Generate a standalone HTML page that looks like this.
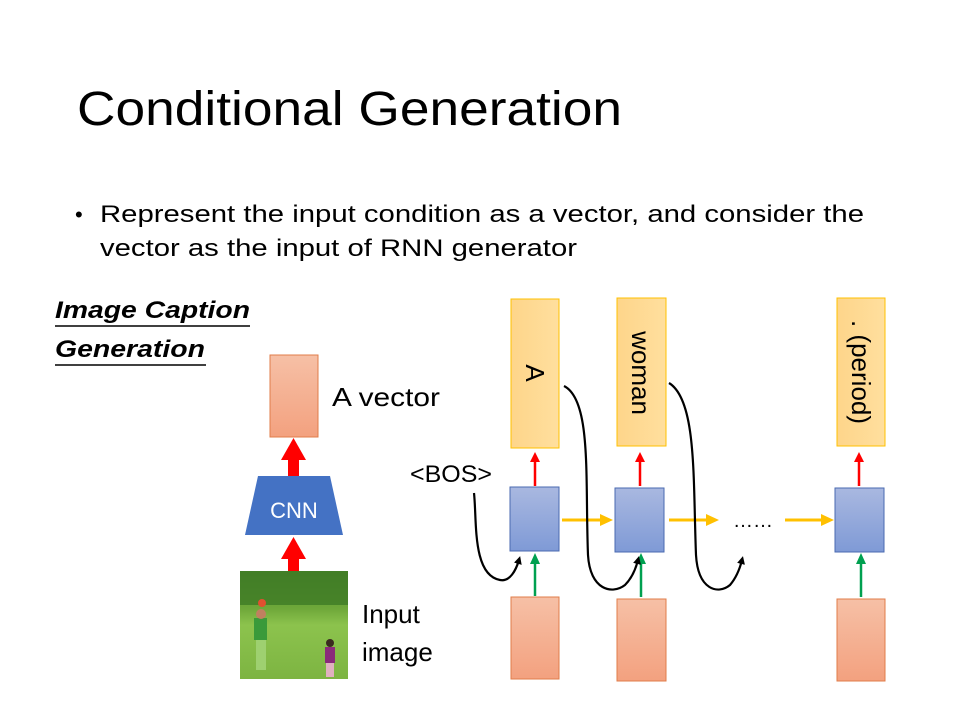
<!DOCTYPE html>
<html><head><meta charset="utf-8"><style>
html,body{margin:0;padding:0;background:#fff;}
svg{display:block;font-family:"Liberation Sans",sans-serif;}
</style></head><body>
<svg width="960" height="720" viewBox="0 0 960 720" xmlns="http://www.w3.org/2000/svg">
<defs>
<linearGradient id="sal" x1="0" y1="0" x2="0" y2="1"><stop offset="0" stop-color="#f6c0a6"/><stop offset="1" stop-color="#f3a17f"/></linearGradient>
<linearGradient id="yel" x1="0" y1="0" x2="1" y2="0"><stop offset="0" stop-color="#fed58a"/><stop offset="1" stop-color="#ffdf9e"/></linearGradient>
<linearGradient id="blu" x1="0" y1="0" x2="0" y2="1"><stop offset="0" stop-color="#a9b8e0"/><stop offset="1" stop-color="#7f9ad6"/></linearGradient>
<linearGradient id="grass" x1="0" y1="0" x2="0" y2="1"><stop offset="0" stop-color="#4f8a2a"/><stop offset="0.35" stop-color="#6fa83a"/><stop offset="0.5" stop-color="#8cc34d"/><stop offset="1" stop-color="#7db442"/></linearGradient>
<marker id="ab" markerWidth="8" markerHeight="8" refX="4" refY="4" orient="auto" markerUnits="userSpaceOnUse"><path d="M0,0 L8,4 L0,8 z" fill="#000"/></marker>
</defs>

<text x="77" y="125" font-size="48" fill="#000" textLength="545" lengthAdjust="spacingAndGlyphs">Conditional Generation</text>
<text x="75" y="222" font-size="22">•</text>
<text x="100" y="222" font-size="24" textLength="764" lengthAdjust="spacingAndGlyphs">Represent the input condition as a vector, and consider the</text>
<text x="100" y="256" font-size="24" textLength="477" lengthAdjust="spacingAndGlyphs">vector as the input of RNN generator</text>

<text x="55" y="318" font-size="24" font-weight="bold" font-style="italic" textLength="195" lengthAdjust="spacingAndGlyphs">Image Caption</text>
<line x1="55" y1="326" x2="250" y2="326" stroke="#000" stroke-width="1.5"/>
<text x="55" y="357" font-size="24" font-weight="bold" font-style="italic" textLength="150" lengthAdjust="spacingAndGlyphs">Generation</text>
<line x1="55" y1="365" x2="206" y2="365" stroke="#000" stroke-width="1.5"/>

<!-- left column -->
<rect x="270" y="355" width="48" height="82" fill="url(#sal)" stroke="#e07c4a" stroke-width="1"/>
<text x="332" y="406" font-size="26" textLength="108" lengthAdjust="spacingAndGlyphs">A vector</text>
<path d="M258,476 L330,476 L343,535 L245,535 Z" fill="#4472c4"/>
<text x="294" y="518" font-size="22" fill="#fff" text-anchor="middle">CNN</text>
<rect x="288" y="458" width="11" height="18" fill="#f00"/>
<path d="M281,460 L306,460 L293.5,438 Z" fill="#f00"/>
<rect x="288" y="557" width="11" height="48" fill="#f00"/>
<path d="M281,559 L306,559 L293.5,537 Z" fill="#f00"/>
<!-- image -->
<rect x="240" y="571" width="108" height="108" fill="url(#grass)"/>
<rect x="240" y="571" width="108" height="34" fill="#3f7a25" opacity="0.8"/>
<circle cx="262" cy="603" r="4" fill="#e05030"/>
<rect x="254" y="618" width="13" height="22" fill="#3a9a3a"/>
<rect x="256" y="640" width="10" height="30" fill="#9ed070"/>
<circle cx="261" cy="614" r="5" fill="#c08060"/>
<rect x="325" y="647" width="10" height="16" fill="#8a2a7a"/>
<circle cx="330" cy="643" r="4" fill="#3a2a20"/>
<rect x="326" y="663" width="8" height="14" fill="#e0b0c0"/>
<text x="362" y="623" font-size="26">Input</text>
<text x="362" y="661" font-size="26">image</text>

<!-- RNN columns -->
<g stroke="#ffc000" stroke-width="1">
<rect x="511" y="299" width="48" height="149" fill="url(#yel)"/>
<rect x="617" y="298" width="49" height="148" fill="url(#yel)"/>
<rect x="837" y="298" width="48" height="148" fill="url(#yel)"/>
</g>
<g font-size="26" fill="#000">
<text transform="translate(526,373) rotate(90)" text-anchor="middle">A</text>
<text transform="translate(632,373) rotate(90)" text-anchor="middle">woman</text>
<text transform="translate(852,372) rotate(90)" text-anchor="middle">. (period)</text>
</g>
<g fill="url(#blu)" stroke="#4a6ab0" stroke-width="1">
<rect x="510" y="487" width="49" height="64"/>
<rect x="615" y="488" width="49" height="64"/>
<rect x="835" y="488" width="49" height="64"/>
</g>
<g fill="url(#sal)" stroke="#e07c4a" stroke-width="1">
<rect x="511" y="597" width="48" height="82"/>
<rect x="617" y="599" width="49" height="82"/>
<rect x="837" y="599" width="48" height="82"/>
</g>
<!-- red small arrows -->
<g stroke="#f00" stroke-width="2.5"><line x1="535" y1="486" x2="535" y2="460"/><line x1="640" y1="486" x2="640" y2="460"/><line x1="859" y1="486" x2="859" y2="460"/></g>
<g fill="#f00"><path d="M530,462 L540,462 L535,452 Z"/><path d="M635,462 L645,462 L640,452 Z"/><path d="M854,462 L864,462 L859,452 Z"/></g>
<!-- green arrows -->
<g stroke="#00a050" stroke-width="2.5"><line x1="535" y1="596" x2="535" y2="562"/><line x1="641" y1="597" x2="641" y2="562"/><line x1="861" y1="597" x2="861" y2="562"/></g>
<g fill="#00a050"><path d="M530,564 L540,564 L535,553 Z"/><path d="M636,564 L646,564 L641,553 Z"/><path d="M856,564 L866,564 L861,553 Z"/></g>
<!-- yellow horizontals -->
<g stroke="#ffc000" stroke-width="3"><line x1="562" y1="520" x2="602" y2="520"/><line x1="669" y1="520" x2="708" y2="520"/><line x1="785" y1="520" x2="823" y2="520"/></g>
<g fill="#ffc000"><path d="M600,514 L613,520 L600,526 Z"/><path d="M706,514 L719,520 L706,526 Z"/><path d="M821,514 L834,520 L821,526 Z"/></g>
<text x="733" y="527" font-size="20" textLength="40" lengthAdjust="spacingAndGlyphs">……</text>
<text x="410" y="482" font-size="24" textLength="82" lengthAdjust="spacingAndGlyphs">&lt;BOS&gt;</text>
<!-- black curves -->
<g fill="none" stroke="#000" stroke-width="2.2">
<path d="M474,493 C477,520 472,575 500,580 C510,582 516,570 519,560" marker-end="url(#ab)"/>
<path d="M564,386 C592,400 585,480 588,555 C590,590 612,595 625,585 C632,578 636,568 638,560" marker-end="url(#ab)"/>
<path d="M669,383 C697,400 693,480 696,555 C698,590 718,595 730,585 C736,578 740,568 742,560" marker-end="url(#ab)"/>
</g>
</svg>
</body></html>
